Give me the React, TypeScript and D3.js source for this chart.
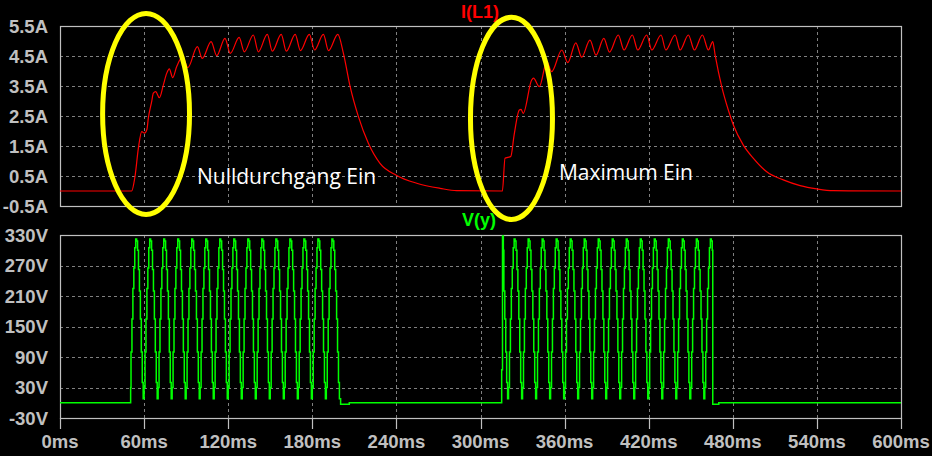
import React from 'react';
import * as d3 from 'd3';

const W = 932;
const H = 456;

// ---- axes / ticks ----
const timeTicks = [0, 60, 120, 180, 240, 300, 360, 420, 480, 540, 600];
const currentTicks = [-0.5, 0.5, 1.5, 2.5, 3.5, 4.5, 5.5];
const voltageTicks = [-30, 30, 90, 150, 210, 270, 330];

// ---- I(L1) trace (ms, A) ----
const currentTimes = [
  0, 51.1, 53.5, 55.9, 58.3, 60.3, 62, 63, 65.4, 66.6, 68.3, 70.9, 73.7, 76.1, 78, 80.4,
  83.2, 87.5, 91.2, 98, 101.5, 107.8, 111.8, 117.7, 121.5, 127.8, 131.5, 137.9, 141.5,
  147.9, 151.5, 157.8, 161.5, 167.8, 171.5, 177.9, 181.6, 187.9, 191.6, 198.2, 202.2,
  207, 212.9, 220, 228.3, 240.2, 254.5, 271.1, 283, 315.6,
  317.5, 319.5, 321.6, 324, 327.7, 328.9, 330.5, 336.5, 337.8, 342, 347.3, 350.8, 358,
  362.3, 368, 372.2, 378.1, 382.4, 388, 392, 398.3, 402.4, 408.3, 412.2, 418.6, 422.2,
  428.8, 432.2, 438.8, 442.4, 448.3, 452.6, 458.3, 462.6, 465.7, 467.4, 472.1, 476.8,
  480.4, 487.5, 494.7, 504.2, 516, 528, 539.9, 551.7, 600,
];
const currentValues = [
  0, 0, 0.48, 1.42, 1.98, 1.93, 2.05, 2.42, 2.98, 3.26, 3.31, 3.11, 3.53, 3.92, 4.07, 3.78,
  4.14, 4.48, 4.11, 4.81, 4.42, 4.98, 4.51, 5.09, 4.59, 5.12, 4.64, 5.2, 4.64,
  5.22, 4.66, 5.22, 4.66, 5.22, 4.68, 5.22, 4.7, 5.22, 4.68, 5.22, 4.59,
  3.48, 2.48, 1.59, 0.92, 0.52, 0.26, 0.09, 0.01, 0,
  1.09, 1.12, 1.15, 1.87, 2.7, 2.72, 2.59, 3.7, 3.76, 3.48, 4.31, 3.98, 4.7,
  4.28, 4.94, 4.46, 5.03, 4.53, 5.09, 4.63, 5.2, 4.7, 5.2, 4.7, 5.2, 4.7,
  5.2, 4.7, 5.2, 4.7, 5.2, 4.7, 5.2, 4.7, 4.98, 4.53, 3.48, 2.7,
  2.2, 1.53, 1.09, 0.64, 0.37, 0.18, 0.07, 0.01, 0,
];

// ---- V(y) trace: stepped half-wave levels (V) ----
const halfCycleLevels = [30, 100, 165, 225, 265, 305, 322, 318, 300, 262, 220, 165, 100, 40, 8];
const halfCycleStepMs = 0.667;
const burst1HalfCycleStarts = [50, 60, 70, 80, 90, 100, 110, 120, 130, 140, 150, 160, 170, 180, 190];
const burst2HalfCycleStarts = [310, 320, 330, 340, 350, 360, 370, 380, 390, 400, 410, 420, 430, 440, 450, 460];
const burstOn = [50.4, 315.1];
const burstOff = [200.2, 465.7];
// switch-on transient steps (ms, V) read at the start of each burst
const burstOnTimes = [[50.4], [315.1, 315.7, 316.3]];
const burstOnLevels = [[30], [65, 328, 300]];
const offDipLevel = -3;
const offDipEnd = [206.4, 470];

function buildVoltage(): [number, number][] {
  const pts: [number, number][] = [[0, 0]];
  const starts = [burst1HalfCycleStarts, burst2HalfCycleStarts];
  for (let b = 0; b < starts.length; b++) {
    const off = burstOff[b];
    const steps: [number, number][] = [];
    starts[b].forEach((c) => halfCycleLevels.forEach((v, k) => steps.push([c + k * halfCycleStepMs, v])));
    burstOnTimes[b].forEach((t, i) => pts.push([t, burstOnLevels[b][i]]));
    const lastOn = burstOnTimes[b][burstOnTimes[b].length - 1];
    steps.forEach((s) => { if (s[0] > lastOn + 0.2 && s[0] < off && s[0] > burstOn[b]) pts.push(s); });
    pts.push([off, offDipLevel]);
    pts.push([offDipEnd[b], 0]);
  }
  pts.push([600, 0]);
  return pts;
}

const FRAME = '#c0c0c0';
const GRID = '#808080';
const LABEL = '#c0c0c0';
const AXFONT = "Arial, 'Liberation Sans', sans-serif";

export default function App() {
  const x = d3.scaleLinear().domain([0, 600]).range([60, 901]);
  const yI = d3.scaleLinear().domain([-0.5, 5.5]).range([206, 26]);
  const yV = d3.scaleLinear().domain([-30, 330]).range([418, 235]);

  const currentPts: [number, number][] = currentTimes.map((t, i) => [t, currentValues[i]]);
  const currentPath = d3.line<[number, number]>()
    .x((d) => x(d[0]))
    .y((d) => yI(d[1]))
    .curve(d3.curveMonotoneX)(currentPts) || '';
  const voltagePath = d3.line<[number, number]>()
    .x((d) => x(d[0]))
    .y((d) => yV(d[1]))
    .curve(d3.curveStepAfter)(buildVoltage()) || '';

  const px = (v: number) => Math.round(v) + 0.5;

  const panel = (y: d3.ScaleLinear<number, number>, ticks: number[], fmt: (v: number) => string, key: string) => {
    const [y0, y1] = [y(ticks[0]), y(ticks[ticks.length - 1])];
    return (
      <g key={key}>
        {ticks.slice(1, -1).map((v) => (
          <line key={'h' + v} x1={x(0)} x2={x(600)} y1={px(y(v))} y2={px(y(v))}
            stroke={GRID} strokeDasharray="3,3" strokeWidth={1} />
        ))}
        {timeTicks.slice(1, -1).map((t) => (
          <line key={'v' + t} x1={px(x(t))} x2={px(x(t))} y1={y1} y2={y0}
            stroke={GRID} strokeDasharray="3,3" strokeWidth={1} />
        ))}
        <rect x={px(x(0))} y={px(y1)} width={Math.round(x(600)) - Math.round(x(0))}
          height={Math.round(y0) - Math.round(y1)} fill="none" stroke={FRAME} strokeWidth={1.2} />
        {ticks.map((v) => (
          <text key={'l' + v} x={48} y={y(v) + 6.6} textAnchor="end" fill={LABEL}
            fontFamily={AXFONT} fontWeight="bold" fontSize={18.5}>{fmt(v)}</text>
        ))}
      </g>
    );
  };

  return (
    <svg width={W} height={H} style={{ position: 'absolute', left: 0, top: 0, display: 'block' }}>
      <rect x={0} y={0} width={W} height={H} fill="#000" />
      {panel(yI, currentTicks, (v) => `${v.toFixed(1)}A`, 'pI')}
      {panel(yV, voltageTicks, (v) => `${v}V`, 'pV')}
      {timeTicks.map((t) => (
        <g key={'xt' + t}>
          <line x1={px(x(t))} x2={px(x(t))} y1={418} y2={429} stroke={FRAME} strokeWidth={1.2} />
          <text x={x(t)} y={448} textAnchor="middle" fill={LABEL} fontFamily={AXFONT}
            fontWeight="bold" fontSize={18.5}>{`${t}ms`}</text>
        </g>
      ))}
      <text x={480} y={18} textAnchor="middle" fill="#ff0000" fontFamily={AXFONT}
        fontWeight="bold" fontSize={18}>I(L1)</text>
      <text x={479} y={226} textAnchor="middle" fill="#00ff00" fontFamily={AXFONT}
        fontWeight="bold" fontSize={18}>V(y)</text>

      <path d={voltagePath} fill="none" stroke="#00ff00" strokeWidth={1.5} />
      <path d={currentPath} fill="none" stroke="#ff0000" strokeWidth={1.2} />

      <ellipse cx={x(61.4)} cy={yI(2.57)} rx={x(61.4 + 31) - x(61.4)} ry={yI(2.57) - yI(2.57 + 3.35)}
        fill="none" stroke="#ffff00" strokeWidth={5} />
      <ellipse cx={x(322.1)} cy={yI(2.42)} rx={x(322.1 + 29.25) - x(322.1)} ry={yI(2.42) - yI(2.42 + 3.37)}
        fill="none" stroke="#ffff00" strokeWidth={5} />

      <text x={x(97.7)} y={184} fill="#ffffff" fontFamily="'Open Sans', sans-serif" fontSize={21}>Nulldurchgang Ein</text>
      <text x={x(356)} y={179.5} fill="#ffffff" fontFamily="'Open Sans', sans-serif" fontSize={21}>Maximum Ein</text>
    </svg>
  );
}
